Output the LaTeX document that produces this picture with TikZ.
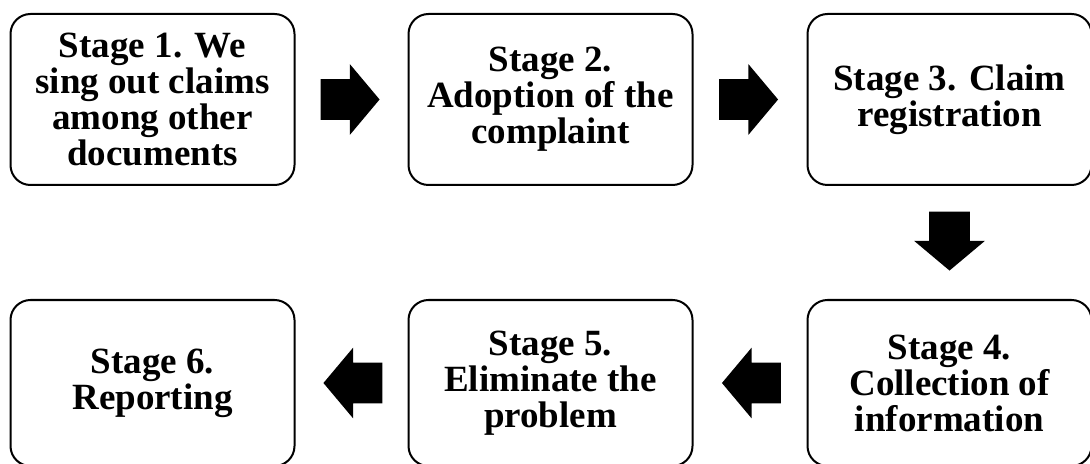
\documentclass[tikz,border=0pt]{standalone}
\usepackage{fontspec}
\setmainfont{Liberation Serif}
\usetikzlibrary{shapes.arrows,positioning}
\tikzset{stage/.style={draw, line width=1pt, rounded corners=10pt, minimum width=142pt, minimum height=85.5pt, align=center, inner sep=0pt, font=\bfseries\fontsize{18.5}{18}\selectfont}}
\tikzset{flow/.style={single arrow, fill=black, draw=none, inner xsep=0pt, inner ysep=10pt, minimum height=29.5pt, minimum width=35pt, single arrow head extend=7.5pt, single arrow tip angle=100}}
\tikzset{flowdown/.style={flow, shape border rotate=270, inner xsep=10pt, inner ysep=0pt}}

\begin{document}
\begin{tikzpicture}[node distance=56pt and 56pt]
	\useasboundingbox (0,0) rectangle (545pt,-232pt);

	% Top row
	\node[stage] (s1) at (76.25pt,-49.75pt) {Stage 1. We\\sing out claims\\among other\\documents};
	\node[stage, right=of s1] (s2) {Stage 2.\\Adoption of the\\complaint};
	\node[stage, right=56.5pt of s2] (s3) {Stage 3. Claim\\registration};

	% Bottom row
	\node[stage, minimum height=83pt, below=56.5pt of s3] (s4) {Stage 4.\\Collection of\\information};
	\node[stage, minimum height=83pt, left=56.5pt of s4] (s5) {Stage 5.\\Eliminate the\\problem};
	\node[stage, minimum height=83pt, left=of s5] (s6) {Stage 6.\\Reporting};

	% Arrows
	\path (s1) -- node[flow, xshift=-5pt] (a12) {} (s2);
	\path (s2) -- node[flow, xshift=-5pt] (a23) {} (s3);
	\path (s3) -- node[flowdown, yshift=5pt] (a34) {} (s4);
	\path (s4) -- node[flow, shape border rotate=180, xshift=5pt] (a45) {} (s5);
	\path (s5) -- node[flow, shape border rotate=180, xshift=5pt] (a56) {} (s6);
\end{tikzpicture}
\end{document}
